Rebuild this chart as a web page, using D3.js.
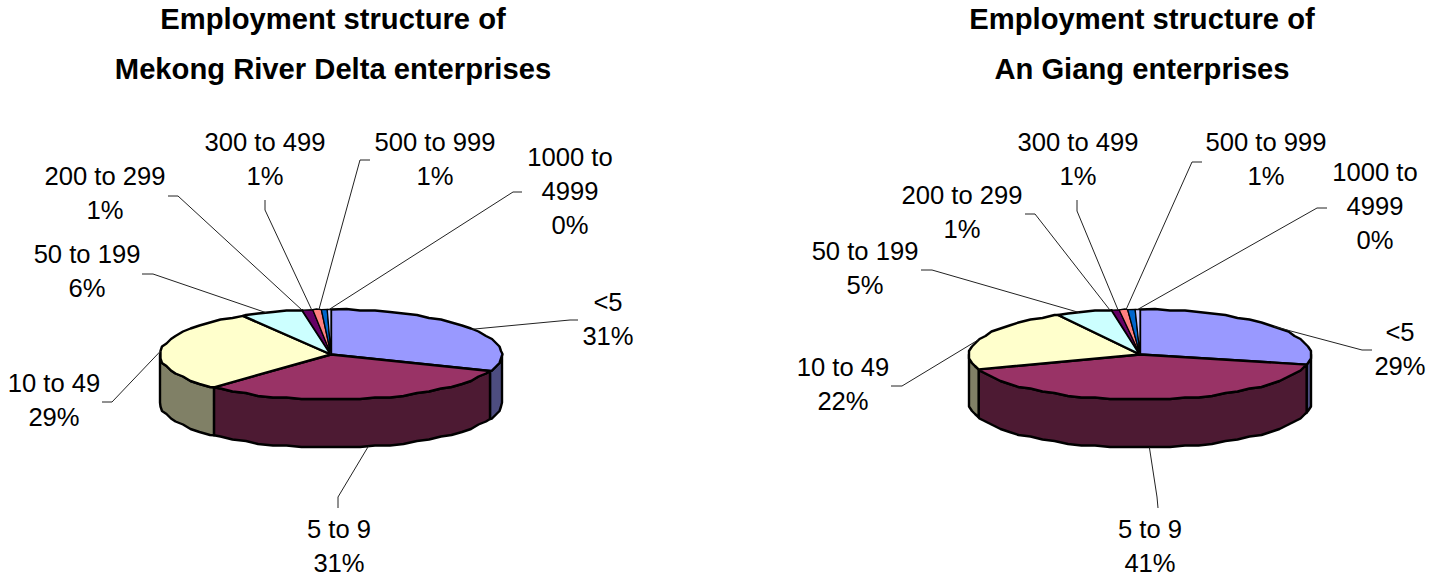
<!DOCTYPE html>
<html>
<head>
<meta charset="utf-8">
<script src="https://cdn.jsdelivr.net/npm/d3@7/dist/d3.min.js"></script>
<style>
html,body{margin:0;padding:0;background:#fff}
svg{display:block}
text{font-family:"Liberation Sans",Arial,sans-serif;fill:#000}
</style>
</head>
<body>
<svg id="chart" width="1439" height="578"></svg>
<script>
// Enterprise size classes and the share of employment in each, in percent
const sizeClasses = ["<5","5 to 9","10 to 49","50 to 199","200 to 299","300 to 499","500 to 999","1000 to 4999"];
const mekongShares = [31,31,29.4,5.9,1,0.8,0.55,0.35];
const anGiangShares = [28.6,41,22.4,5.3,0.7,0.8,0.7,0.45];
const sliceColors = ["#9999FF","#993366","#FFFFCC","#CCFFFF","#660066","#FF8080","#0066CC","#CCCCFF"];
const mekongTitle = ["Employment structure of","Mekong River Delta enterprises"];
const anGiangTitle = ["Employment structure of","An Giang enterprises"];

// Label placement per slice: text centre, first baseline, and leader bend points
const mekongLabels = [
  {x:608,y:311,lines:["<5"],bend:[[570,320],[578,320]]},
  {x:339,y:538,lines:["5 to 9"],bend:[[338,497],[338,508]]},
  {x:54,y:392,lines:["10 to 49"],bend:[[112,402],[102,402]]},
  {x:87,y:263,lines:["50 to 199"],bend:[[153,274],[142,274]]},
  {x:105,y:185,lines:["200 to 299"],bend:[[178,196],[168,196]]},
  {x:265,y:151,lines:["300 to 499"],bend:[[265,210],[265,200]]},
  {x:435,y:151,lines:["500 to 999"],bend:[[360,160],[370,160]]},
  {x:570,y:166,lines:["1000 to","4999"],bend:[[513,192],[522,192]]}
];
const anGiangLabels = [
  {x:1400,y:341,lines:["<5"],bend:[[1362,350],[1372,350]]},
  {x:1150,y:538,lines:["5 to 9"],bend:[[1157,497],[1158,508]]},
  {x:843,y:376,lines:["10 to 49"],bend:[[902,386],[891,386]]},
  {x:865,y:260,lines:["50 to 199"],bend:[[932,270],[921,270]]},
  {x:962,y:204,lines:["200 to 299"],bend:[[1035,214],[1025,214]]},
  {x:1078,y:151,lines:["300 to 499"],bend:[[1077,211],[1077,200]]},
  {x:1266,y:151,lines:["500 to 999"],bend:[[1192,162],[1202,162]]},
  {x:1375,y:181,lines:["1000 to","4999"],bend:[[1317,208],[1327,208]]}
];

const svg = d3.select("#chart");
const depth = 48, rx = 171, ry = 45, step = Math.PI / 36, grid = 1.5;
const toLine = d3.line().x(d => d[0]).y(d => d[1]);
const snap = v => Math.round(v / grid) * grid;

// Side walls use the slice colour at half brightness
function halfTone(c) {
  const k = d3.rgb(c);
  return d3.rgb(k.r / 2, k.g / 2, k.b / 2).formatHex();
}

function drawPie(cx, cy, shares, title, titleX, labels) {
  const arcs = d3.pie().sort(null).value(d => d)(shares);
  const total = d3.sum(shares);
  const pt = (a, dy = 0) => [cx + rx * Math.sin(a), cy - ry * Math.cos(a) + dy];
  // Interior rim points snap to a coarse grid, giving the outline its stepped look;
  // slice boundaries stay exact so narrow slices keep their true width
  const rimPath = (a0, a1, dy = 0) => {
    const out = [pt(a0, dy)];
    for (let k = Math.ceil(a0 / step + 1e-6) * step; k < a1 - 1e-6; k += step) out.push(pt(k, dy).map(snap));
    out.push(pt(a1, dy));
    return out;
  };
  const outline = (sel, w) => sel
    .attr("stroke", "#000").attr("stroke-width", w).attr("stroke-linejoin", "round");

  // Rim walls: only the part of each slice on the near side of the ellipse
  arcs.forEach((d, i) => {
    const a0 = Math.max(d.startAngle, Math.PI / 2), a1 = Math.min(d.endAngle, 3 * Math.PI / 2);
    if (a1 <= a0) return;
    const poly = rimPath(a0, a1).concat(rimPath(a0, a1, depth).reverse());
    svg.append("path")
      .attr("d", toLine(poly) + "Z")
      .attr("fill", halfTone(sliceColors[i]))
      .call(outline, 2.4);
  });

  // Top face; the narrow slices get a finer outline so their colours stay visible
  arcs.forEach((d, i) => {
    const poly = [[cx, cy]].concat(rimPath(d.startAngle, d.endAngle));
    svg.append("path")
      .attr("d", toLine(poly) + "Z")
      .attr("fill", sliceColors[i])
      .call(outline, d.value < 2 ? 1.3 : 2.4);
  });

  // Leader lines and labels
  arcs.forEach((d, i) => {
    let mid = (d.startAngle + d.endAngle) / 2;
    // Leaders on the far left side attach slightly before the slice centre
    if (mid > 3 * Math.PI / 2 && i < arcs.length - 1) mid -= Math.PI / 100;
    const start = pt(mid, Math.cos(mid) < -0.3 ? depth : 0);
    svg.append("path")
      .attr("d", toLine([start].concat(labels[i].bend)))
      .attr("fill", "none").attr("stroke", "#222").attr("stroke-width", 1);
    const t = svg.append("text").attr("text-anchor", "middle").attr("font-size", 25.6);
    const rows = labels[i].lines.concat(Math.round(d.value / total * 100) + "%");
    rows.forEach((r, j) => t.append("tspan").attr("x", labels[i].x).attr("y", labels[i].y + j * 34).text(r));
  });

  // Two-line bold heading
  title.forEach((r, j) => svg.append("text")
    .attr("x", titleX).attr("y", 29 + j * 50)
    .attr("text-anchor", "middle").attr("font-size", 29.2).attr("font-weight", "bold").text(r));
}

drawPie(331, 354.5, mekongShares, mekongTitle, 333, mekongLabels);
drawPie(1140, 354.5, anGiangShares, anGiangTitle, 1142, anGiangLabels);
</script>
</body>
</html>
